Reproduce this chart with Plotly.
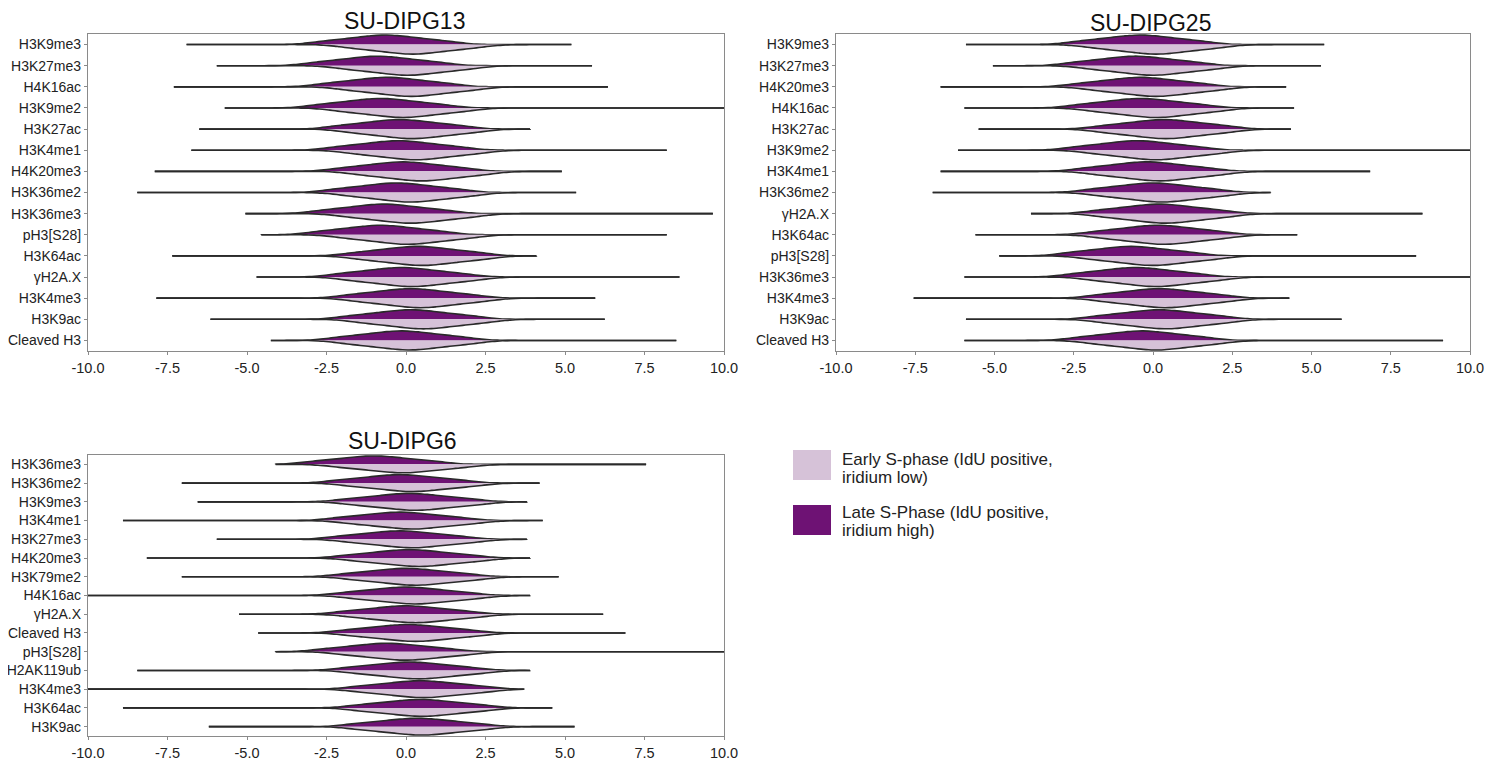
import plotly.graph_objects as go

# ---------------- data ----------------
P1_TITLE = "SU-DIPG13"
P1_LABELS = ["H3K9me3", "H3K27me3", "H4K16ac", "H3K9me2", "H3K27ac", "H3K4me1", "H4K20me3",
             "H3K36me2", "H3K36me3", "pH3[S28]", "H3K64ac", "γH2A.X", "H3K4me3", "H3K9ac", "Cleaved H3"]
P1_MIN = [-6.9, -5.95, -7.3, -5.7, -6.5, -6.75, -7.9, -8.45, -5.05, -4.55, -7.35, -4.7, -7.85, -6.15, -4.25]
P1_MAX = [5.2, 5.85, 6.35, 10.5, 3.9, 8.2, 4.9, 5.35, 9.65, 8.2, 4.1, 8.6, 5.95, 6.25, 8.5]
P1_LATE = [-0.65, -0.9, -0.6, -0.8, -0.2, -0.25, -0.1, -0.3, -0.7, -0.8, 0.35, -0.15, 0.15, 0.15, -0.15]
P1_EARLY = [0.2, 0.05, 0.15, -0.1, 0.2, 0.3, 0.5, 0.15, 0.15, 0.05, 0.5, 0.2, 0.45, 0.55, 0.1]

P2_TITLE = "SU-DIPG25"
P2_LABELS = ["H3K9me3", "H3K27me3", "H4K20me3", "H4K16ac", "H3K27ac", "H3K9me2", "H3K4me1", "H3K36me2",
             "γH2A.X", "H3K64ac", "pH3[S28]", "H3K36me3", "H3K4me3", "H3K9ac", "Cleaved H3"]
P2_MIN = [-5.9, -5.05, -6.7, -5.95, -5.5, -6.15, -6.7, -6.95, -3.85, -5.6, -4.85, -5.95, -7.55, -5.9, -5.95]
P2_MAX = [5.4, 5.3, 4.2, 4.45, 4.35, 10.5, 6.85, 3.7, 8.5, 4.55, 8.3, 10.5, 4.3, 5.95, 9.15]
P2_LATE = [-0.4, -0.55, -0.4, -0.4, 0.35, -0.5, -0.2, 0.0, 0.2, 0.15, -0.7, -0.55, 0.2, 0.2, -0.35]
P2_EARLY = [0.1, 0.0, 0.1, 0.1, 0.4, 0.1, 0.2, 0.3, 0.4, 0.35, 0.0, 0.1, 0.4, 0.4, 0.1]

P3_TITLE = "SU-DIPG6"
P3_LABELS = ["H3K36me3", "H3K36me2", "H3K9me3", "H3K4me1", "H3K27me3", "H4K20me3", "H3K79me2", "H4K16ac",
             "γH2A.X", "Cleaved H3", "pH3[S28]", "H2AK119ub", "H3K4me3", "H3K64ac", "H3K9ac"]
P3_MIN = [-4.1, -7.05, -6.55, -8.9, -5.95, -8.15, -7.05, -10.5, -5.25, -4.65, -4.1, -8.45, -10.5, -8.9, -6.2]
P3_MAX = [7.55, 4.2, 3.8, 4.3, 3.8, 3.9, 4.8, 3.9, 6.2, 6.9, 10.5, 3.9, 3.7, 4.6, 5.3]
P3_LATE = [-1.0, -0.2, 0.1, -0.2, -0.2, 0.1, 0.0, 0.0, 0.0, 0.05, -0.6, 0.1, 0.45, 0.45, 0.35]
P3_EARLY = [-0.1, 0.2, 0.3, 0.2, 0.2, 0.4, 0.3, 0.3, 0.3, 0.3, 0.0, 0.4, 0.55, 0.5, 0.5]

# typical body spread around each violin's peak (offset quantiles read from the shapes)
BODY_OFFSETS = [-2.0, -1.4, -1.0, -0.65, -0.35, -0.1, 0.1, 0.35, 0.65, 1.0, 1.4, 2.0]

X_TICKS = [-10, -7.5, -5, -2.5, 0, 2.5, 5, 7.5, 10]
X_TICK_TEXT = ["-10.0", "-7.5", "-5.0", "-2.5", "0.0", "2.5", "5.0", "7.5", "10.0"]

LEGEND_EARLY = ["Early S-phase (IdU positive,", "iridium low)"]
LEGEND_LATE = ["Late S-Phase (IdU positive,", "iridium high)"]

# ---------------- style ----------------
DARK = "#6E1274"
LIGHT = "#D6C2D8"
OUTLINE = "#2a2a2a"
FRAME = "#8a8a8a"
FONT = "Liberation Sans, Arial, sans-serif"
PAGE_OFF = 8                     # page body margin in the browser
W, H = 1501 - PAGE_OFF, 759 - PAGE_OFF


def px_x(p):
    return (p - PAGE_OFF) / W


def px_y(p):
    return 1 - (p - PAGE_OFF) / H


panels = [
    dict(title=P1_TITLE, labels=P1_LABELS, mn=P1_MIN, mx=P1_MAX, late=P1_LATE, early=P1_EARLY,
         xd=(88, 724), yd=(34, 351), tx=404, ty=21),
    dict(title=P2_TITLE, labels=P2_LABELS, mn=P2_MIN, mx=P2_MAX, late=P2_LATE, early=P2_EARLY,
         xd=(836, 1470), yd=(34, 351), tx=1150, ty=23),
    dict(title=P3_TITLE, labels=P3_LABELS, mn=P3_MIN, mx=P3_MAX, late=P3_LATE, early=P3_EARLY,
         xd=(88, 724), yd=(455, 736), tx=402, ty=441),
]

fig = go.Figure()
layout = dict(width=W, height=H, margin=dict(l=0, r=0, t=0, b=0), paper_bgcolor="white",
              plot_bgcolor="white", violinmode="overlay", violingap=0, violingroupgap=0,
              showlegend=False, font=dict(family=FONT, color="#222", size=14))
annotations = []
shapes = []

for i, p in enumerate(panels):
    sfx = "" if i == 0 else str(i + 1)
    xa, ya = "x" + sfx, "y" + sfx
    for j, lab in enumerate(p["labels"]):
        for centre, side, col in ((p["late"][j], "negative", DARK), (p["early"][j], "positive", LIGHT)):
            vals = [centre + o for o in BODY_OFFSETS]
            fig.add_trace(go.Violin(
                x=vals, y=[lab] * len(vals), orientation="h", side=side,
                fillcolor=col, opacity=1, line=dict(color=OUTLINE, width=1.6),
                points=False, box_visible=False, meanline_visible=False,
                bandwidth=0.5, spanmode="manual", span=[p["mn"][j], p["mx"][j]],
                scalemode="width", width=0.9, hoverinfo="skip",
                xaxis=xa, yaxis=ya))
    n = len(p["labels"])
    layout["xaxis" + sfx] = dict(
        domain=[px_x(p["xd"][0]), px_x(p["xd"][1])], anchor=ya, range=[-10, 10],
        tickvals=X_TICKS, ticktext=X_TICK_TEXT, ticks="outside", ticklen=3, tickcolor=FRAME,
        showline=True, linecolor=FRAME, linewidth=1.2, mirror=True, showgrid=False, zeroline=False,
        tickfont=dict(size=14.5, color="#222"), automargin=False)
    layout["yaxis" + sfx] = dict(
        domain=[px_y(p["yd"][1]), px_y(p["yd"][0])], anchor=xa, type="category",
        categoryorder="array", categoryarray=p["labels"], range=[n - 0.5, -0.5],
        ticks="outside", ticklen=3, tickcolor=FRAME, showline=True, linecolor=FRAME,
        linewidth=1.2, mirror=True, showgrid=False, zeroline=False,
        tickfont=dict(size=14, color="#222"), automargin=False)
    annotations.append(dict(text=p["title"], x=px_x(p["tx"]), y=px_y(p["ty"]), xref="paper",
                            yref="paper", showarrow=False, xanchor="center", yanchor="middle",
                            borderpad=0, font=dict(size=23, color="#111", family=FONT)))

# legend drawn as boxes + text
for (y0, y1, col, lines, ly) in ((450, 480, LIGHT, LEGEND_EARLY, (460, 477)),
                                 (505, 535, DARK, LEGEND_LATE, (512, 530))):
    shapes.append(dict(type="rect", xref="paper", yref="paper", x0=px_x(793), x1=px_x(831),
                       y0=px_y(y1), y1=px_y(y0), fillcolor=col, line=dict(width=0)))
    for txt, yy in zip(lines, ly):
        annotations.append(dict(text=txt, x=px_x(840), y=px_y(yy), xref="paper", yref="paper",
                                showarrow=False, xanchor="left", yanchor="middle",
                                font=dict(size=17, color="#222", family=FONT)))

layout["annotations"] = annotations
layout["shapes"] = shapes
fig.update_layout(**layout)
fig.write_html("out.html")
